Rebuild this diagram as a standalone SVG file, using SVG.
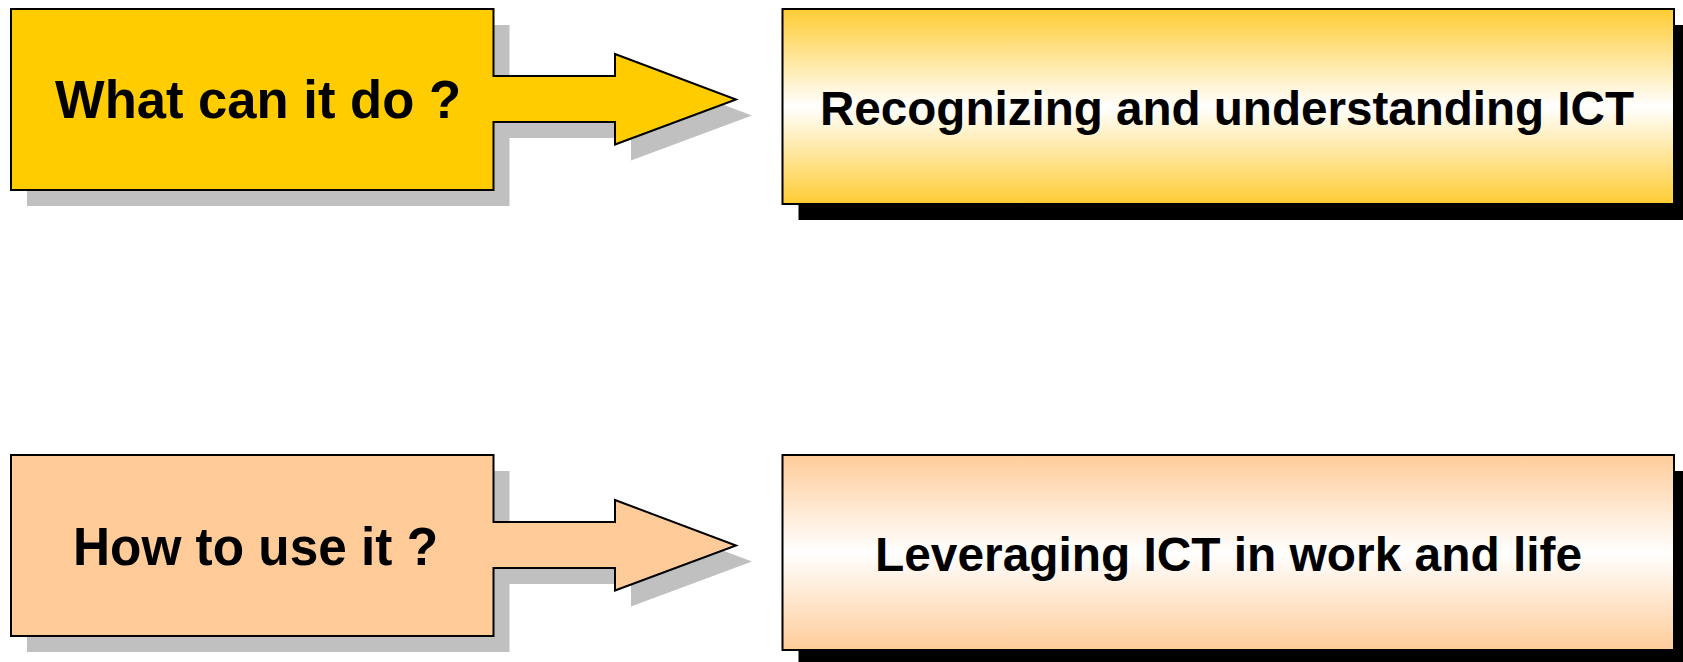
<svg xmlns="http://www.w3.org/2000/svg" width="1683" height="662" viewBox="0 0 1683 662">
<defs>
<linearGradient id="gGold" x1="0" y1="0" x2="0" y2="1">
<stop offset="0" stop-color="#FFCC33"/>
<stop offset="0.5" stop-color="#FFFFFF"/>
<stop offset="1" stop-color="#FFCC33"/>
</linearGradient>
<linearGradient id="gPeach" x1="0" y1="0" x2="0" y2="1">
<stop offset="0" stop-color="#FFCC99"/>
<stop offset="0.5" stop-color="#FFFFFF"/>
<stop offset="1" stop-color="#FFCC99"/>
</linearGradient>
<path id="callout" d="M11,9 H493.5 V76 H615 V54 L736,99.5 L615,144.5 V122 H493.5 V190 H11 Z"/>
</defs>
<style>
.shadowGray{fill:#C0C0C0;stroke:none}
.shadowBlack{fill:#000000;stroke:none}
.outline{stroke:#000000;stroke-width:2;stroke-linejoin:miter}
.lbl{font-family:"Liberation Sans",Arial,sans-serif;font-weight:bold;fill:#000000;text-anchor:middle}
.big{font-size:53px}
.mid{font-size:48px}
</style>
<g id="connectors"></g>
<g id="node-what">
<use href="#callout" class="shadowGray" transform="translate(16,16)"/>
<use href="#callout" class="outline" fill="#FFCC00"/>
<text class="lbl big" x="258" y="118" textLength="406" lengthAdjust="spacingAndGlyphs">What can it do ?</text>
</g>
<g id="node-recognizing">
<rect class="shadowBlack" x="798.5" y="25" width="892" height="195"/>
<rect class="outline" x="782.5" y="9" width="891.5" height="195" fill="url(#gGold)"/>
<text class="lbl mid" x="1227" y="125" textLength="814" lengthAdjust="spacingAndGlyphs">Recognizing and understanding ICT</text>
</g>
<g id="node-how">
<use href="#callout" class="shadowGray" transform="translate(16,462)"/>
<use href="#callout" class="outline" fill="#FFCC99" transform="translate(0,446)"/>
<text class="lbl big" x="255.5" y="564.5" textLength="365" lengthAdjust="spacingAndGlyphs">How to use it ?</text>
</g>
<g id="node-leveraging">
<rect class="shadowBlack" x="798.5" y="471" width="892" height="195"/>
<rect class="outline" x="782.5" y="455" width="891.5" height="195" fill="url(#gPeach)"/>
<text class="lbl mid" x="1228.5" y="571" textLength="707" lengthAdjust="spacingAndGlyphs">Leveraging ICT in work and life</text>
</g>
</svg>
